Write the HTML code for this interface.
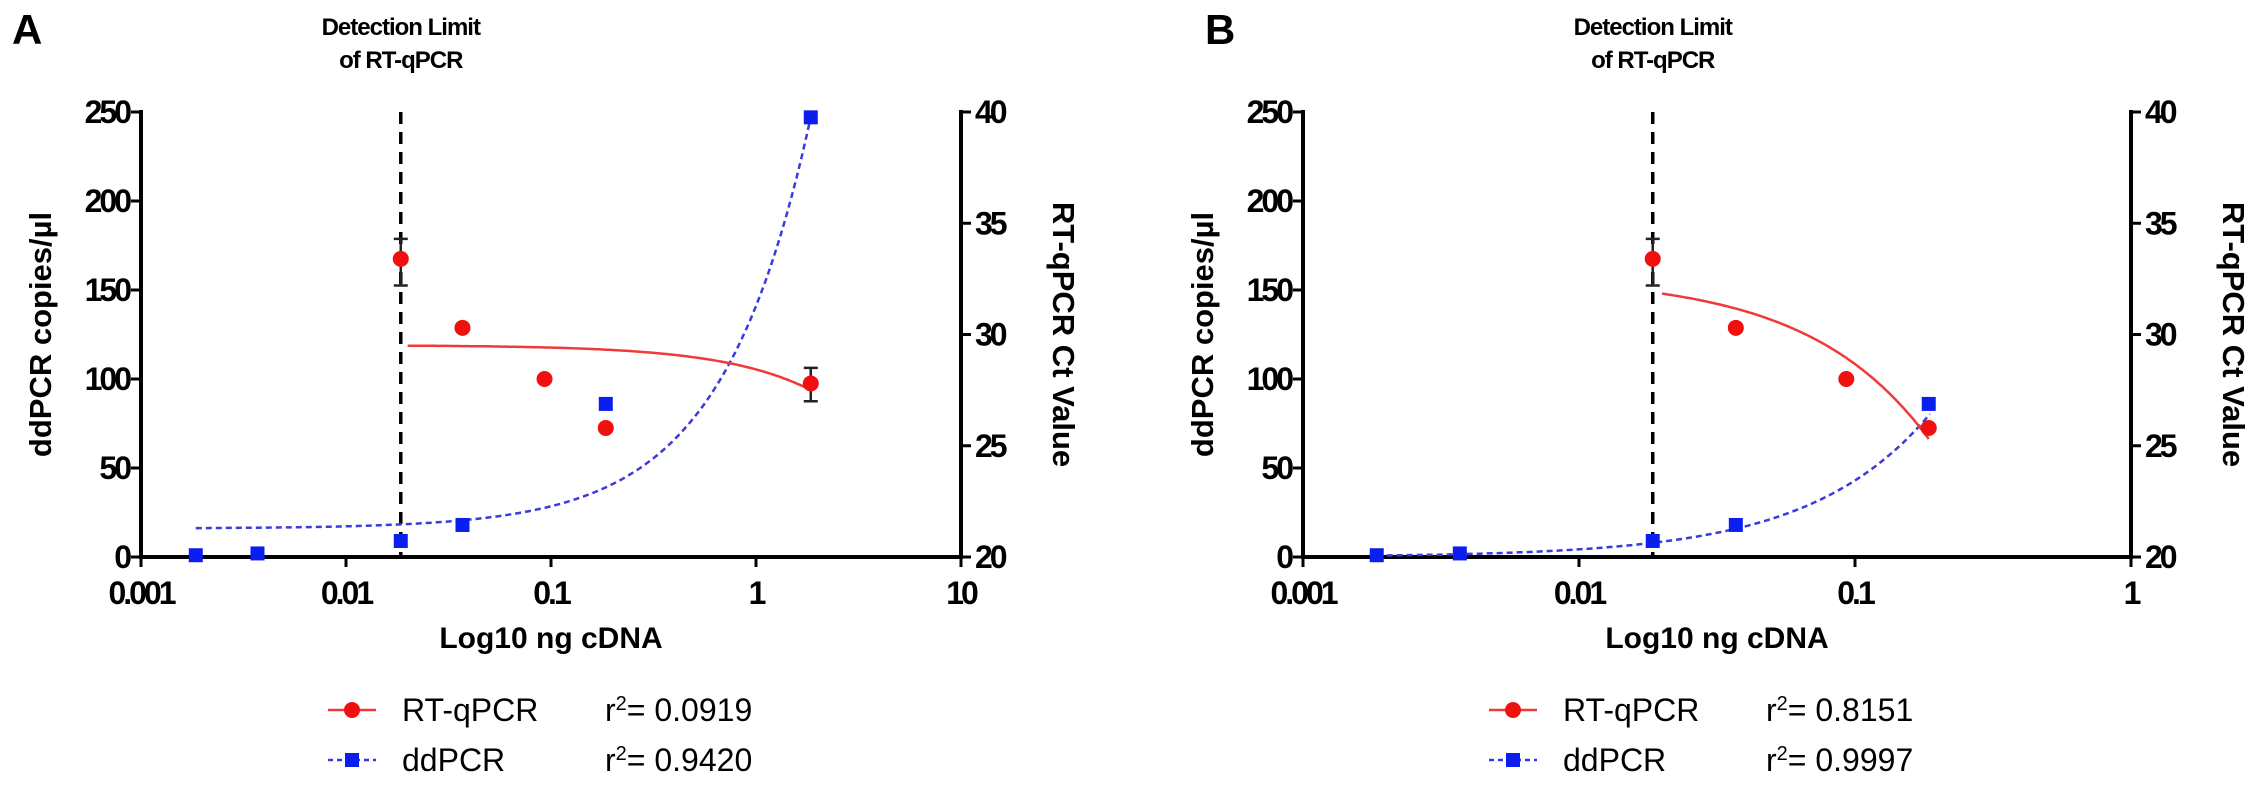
<!DOCTYPE html>
<html><head><meta charset="utf-8"><style>
html,body{margin:0;padding:0;background:#fff}
svg{display:block}
text{font-family:"Liberation Sans",sans-serif}
.b{font-weight:bold}
</style></head><body>
<svg id="c" width="2268" height="785" viewBox="0 0 2268 785" xmlns="http://www.w3.org/2000/svg"></svg>
<script>
// ---- data ----
const rtX_A = [0.0185, 0.037, 0.093, 0.185, 1.85];
const rtCt_A = [33.4, 30.3, 28.0, 25.8, 27.8];
const rtErrLo_A = [32.2, null, null, null, 27.0];
const rtErrHi_A = [34.3, null, null, null, 28.5];
const ddX_A = [0.00185, 0.0037, 0.0185, 0.037, 0.185, 1.85];
const ddY_A = [1, 2, 9, 18, 86, 247];
const rtFit_A = [29.52, -1.09];   // Ct = a + b*x
const ddFit_A = [16, 125];        // copies = a + b*x
const rtX_B = [0.0185, 0.037, 0.093, 0.185];
const rtCt_B = [33.4, 30.3, 28.0, 25.8];
const rtErrLo_B = [32.2, null, null, null];
const rtErrHi_B = [34.3, null, null, null];
const ddX_B = [0.00185, 0.0037, 0.0185, 0.037, 0.185];
const ddY_B = [1, 2, 9, 18, 86];
const rtFit_B = [32.63, -39.6];
const ddFit_B = [0, 430];
const leftTicks = [0, 50, 100, 150, 200, 250];
const rightTicks = [20, 25, 30, 35, 40];
const xTicksA = ["0.001", "0.01", "0.1", "1", "10"];
const xTicksB = ["0.001", "0.01", "0.1", "1"];
const r2A = ["0.0919", "0.9420"];
const r2B = ["0.8151", "0.9997"];
const detectLimit = 0.0185;

const svg = document.getElementById('c');
const NS = 'http://www.w3.org/2000/svg';
function mk(tag, attrs, parent, txt){
  const e = document.createElementNS(NS, tag);
  for (const k in attrs) e.setAttribute(k, attrs[k]);
  if (txt !== undefined) e.textContent = txt;
  (parent || svg).appendChild(e);
  return e;
}

function panel(P){
  const g = mk('g', {});
  
  
  const y0 = 557, y1 = 112;
  const xs = v => P.x0 + (Math.log10(v) + 3) * P.dec;
  const yl = v => y0 - (v / 250) * (y0 - y1);
  const yr = v => y0 - ((v - 20) / 20) * (y0 - y1);
  const xEnd = P.x0 + (P.xt.length - 1) * P.dec;

  const L = mk('text', {x: P.letterX, y: 44, 'font-size': 42, class: 'b'}, g, P.letter);
  
  

  const ax = mk('path', {d: `M${P.x0} ${y1-2}V${y0}H${xEnd}V${y1-2}`, stroke: '#000', 'stroke-width': 4, fill: 'none'}, g);
  
  
  leftTicks.forEach(t => {
    const y = yl(t);
    mk('line', {x1: P.x0 - 10, x2: P.x0, y1: y, y2: y, stroke: '#000', 'stroke-width': 3}, g);
    const tx = mk('text', {x: P.x0 - 12, y: y + 11, 'font-size': 32, class: 'b', 'text-anchor': 'end', 'letter-spacing': -3}, g, t);
    
    
  });
  rightTicks.forEach(t => {
    const y = yr(t);
    mk('line', {x1: xEnd, x2: xEnd + 10, y1: y, y2: y, stroke: '#000', 'stroke-width': 3}, g);
    const tx = mk('text', {x: xEnd + 14, y: y + 11, 'font-size': 32, class: 'b', 'letter-spacing': -3}, g, t);
    
    
  });
  P.xt.forEach((t, i) => {
    const x = P.x0 + i * P.dec;
    mk('line', {x1: x, x2: x, y1: y0, y2: y0 + 10, stroke: '#000', 'stroke-width': 3}, g);
    const tx = mk('text', {x: x, y: y0 + 47, 'font-size': 32, class: 'b', 'text-anchor': 'middle', 'letter-spacing': -3}, g, t);
    
    
  });
  const xt = mk('text', {x: (P.x0 + xEnd) / 2, y: 648, 'font-size': 30, class: 'b', 'text-anchor': 'middle'}, g, 'Log10 ng cDNA');
  
  
  const ytl = mk('text', {x: 0, y: 0, 'font-size': 31, class: 'b', 'text-anchor': 'middle', transform: `translate(${P.x0 - 90},${(y0 + y1) / 2}) rotate(-90)`}, g, 'ddPCR copies/µl');
  
  
  const ytr = mk('text', {x: 0, y: 0, 'font-size': 31, class: 'b', 'text-anchor': 'middle', transform: `translate(${xEnd + 92},${(y0 + y1) / 2}) rotate(90)`}, g, 'RT-qPCR Ct Value');
  
  

  const dx = xs(detectLimit);
  const dl = mk('line', {x1: dx, x2: dx, y1: y1, y2: y0, stroke: '#000', 'stroke-width': 3.5, 'stroke-dasharray': '12 8'}, g);
  
  
  const d1 = mk('text', {x: dx, y: 35, 'font-size': 24, class: 'b', 'text-anchor': 'middle', 'letter-spacing': -1}, g, 'Detection Limit');
  
  
  const d2 = mk('text', {x: dx, y: 68, 'font-size': 24, class: 'b', 'text-anchor': 'middle', 'letter-spacing': -1}, g, 'of RT-qPCR');
  
  

  function fitPath(a, b, xa, xb, yf){
    let d = '';
    for (let i = 0; i <= 120; i++){
      const lx = Math.log10(xa) + (Math.log10(xb) - Math.log10(xa)) * i / 120;
      const v = a + b * Math.pow(10, lx);
      d += (i ? 'L' : 'M') + xs(Math.pow(10, lx)).toFixed(1) + ' ' + yf(v).toFixed(1);
    }
    return d;
  }
  const ddMax = P.ddX[P.ddX.length - 1];
  const bf = mk('path', {d: fitPath(P.ddFit[0], P.ddFit[1], P.ddX[0], ddMax * 1.01, yl), stroke: '#3a3ae0', 'stroke-width': 2.5, fill: 'none', 'stroke-dasharray': '6 4'}, g);
  
  
  const rf = mk('path', {d: fitPath(P.rtFit[0], P.rtFit[1], P.rtX[0] * 1.08, P.rtX[P.rtX.length - 1], yr), stroke: '#f03a3a', 'stroke-width': 2.5, fill: 'none'}, g);
  
  

  P.rtX.forEach((x, i) => {
    if (P.lo[i] == null) return;
    const cx = xs(x), a = yr(P.lo[i]), b = yr(P.hi[i]);
    const e = mk('path', {d: `M${cx} ${a}V${b}M${cx - 7} ${a}H${cx + 7}M${cx - 7} ${b}H${cx + 7}`, stroke: '#222', 'stroke-width': 2.5, fill: 'none'}, g);
    
    
  });
  P.ddX.forEach((x, i) => {
    const s = mk('rect', {x: xs(x) - 7, y: yl(P.ddY[i]) - 7, width: 14, height: 14, fill: '#0a1ef0'}, g);
    
    
  });
  P.rtX.forEach((x, i) => {
    const c = mk('circle', {cx: xs(x), cy: yr(P.rtCt[i]), r: 8, fill: '#f01010'}, g);
    
    
  });

  const lg = mk('g', {}, g);
  
  
  const lx = P.legX, ly1 = 710, ly2 = 760;
  mk('line', {x1: lx, x2: lx + 48, y1: ly1, y2: ly1, stroke: '#f03a3a', 'stroke-width': 2.5}, lg);
  mk('circle', {cx: lx + 24, cy: ly1, r: 8, fill: '#f01010'}, lg);
  mk('line', {x1: lx, x2: lx + 48, y1: ly2, y2: ly2, stroke: '#3a3ae0', 'stroke-width': 2.5, 'stroke-dasharray': '5 4'}, lg);
  mk('rect', {x: lx + 17, y: ly2 - 7, width: 14, height: 14, fill: '#0a1ef0'}, lg);
  const t1 = mk('text', {x: lx + 74, y: ly1 + 11, 'font-size': 32}, lg, 'RT-qPCR');
  
  
  const t2 = mk('text', {x: lx + 74, y: ly2 + 11, 'font-size': 32}, lg, 'ddPCR');
  
  
  [[ly1, P.r2[0]], [ly2, P.r2[1]]].forEach(([yy, v]) => {
    const t = mk('text', {x: lx + 277, y: yy + 11, 'font-size': 32}, lg);
    
    
    mk('tspan', {}, t, 'r');
    mk('tspan', {dy: -11, 'font-size': 20}, t, '2');
    mk('tspan', {dy: 11}, t, '= ' + v);
  });
}

panel({letter: 'A', letterX: 12, x0: 141, dec: 205, xt: xTicksA, rtX: rtX_A, rtCt: rtCt_A, lo: rtErrLo_A, hi: rtErrHi_A,
  ddX: ddX_A, ddY: ddY_A, rtFit: rtFit_A, ddFit: ddFit_A, r2: r2A, legX: 328});
panel({letter: 'B', letterX: 1205, x0: 1303, dec: 276, xt: xTicksB, rtX: rtX_B, rtCt: rtCt_B, lo: rtErrLo_B, hi: rtErrHi_B,
  ddX: ddX_B, ddY: ddY_B, rtFit: rtFit_B, ddFit: ddFit_B, r2: r2B, legX: 1489});
</script>
</body></html>
